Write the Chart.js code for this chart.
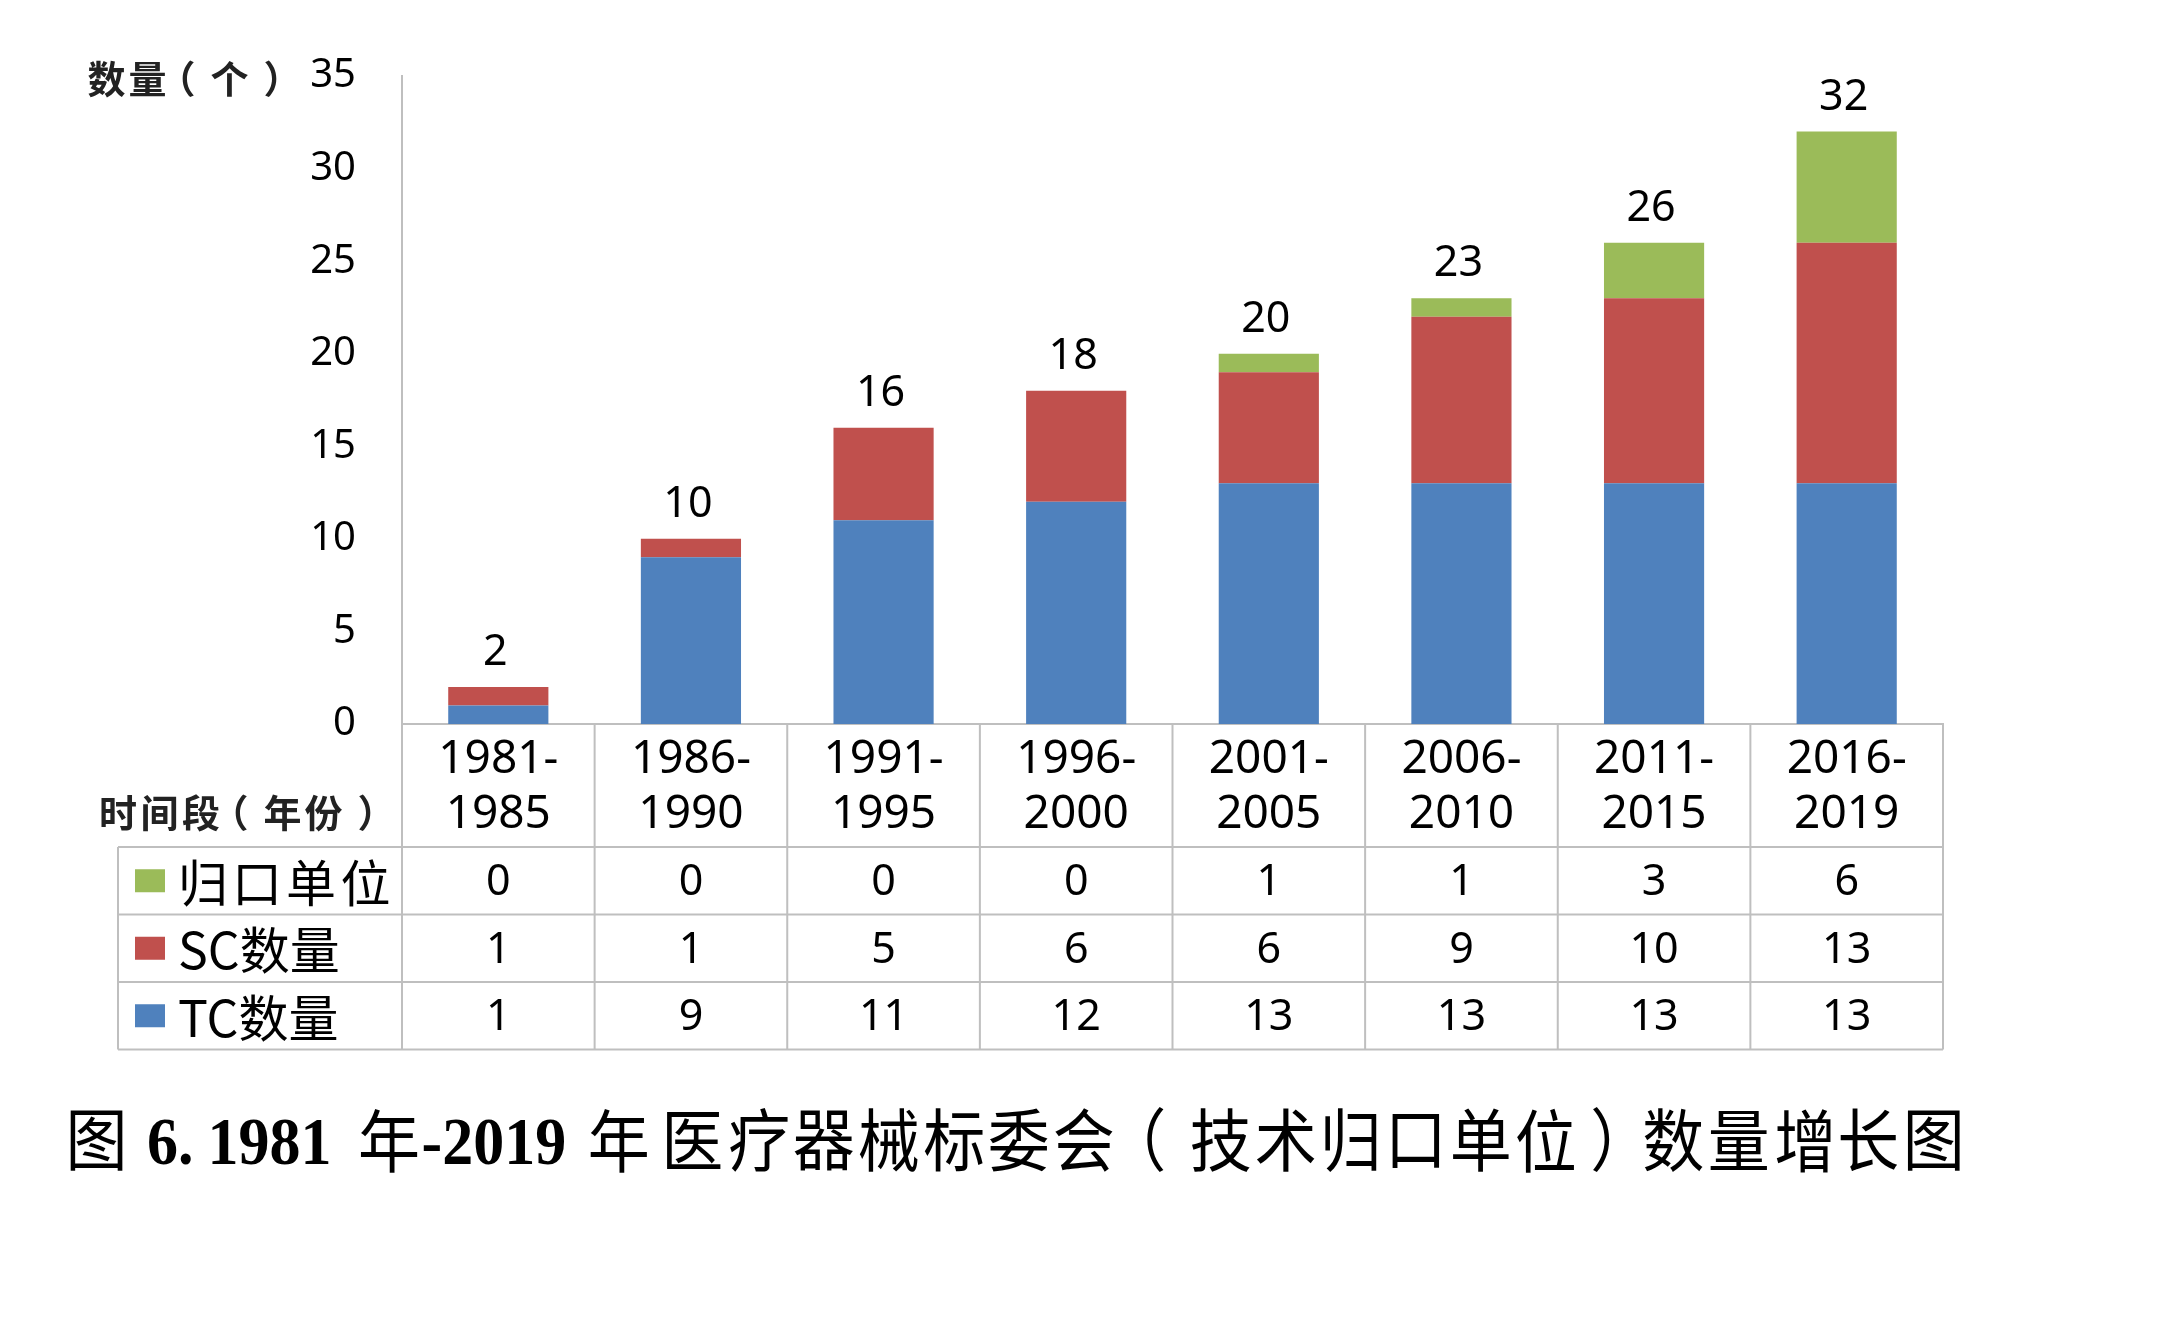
<!DOCTYPE html>
<html>
<head>
<meta charset="utf-8">
<script src="https://cdn.jsdelivr.net/npm/chart.js@4/dist/chart.umd.min.js"></script>
<style>
html,body{margin:0;padding:0;background:#fff;}
#c{display:block;width:2172px;height:1326px;}
</style>
</head>
<body>
<canvas id="c" width="2172" height="1326"></canvas>
<script>
// ---- data ----
const categories = ['1981-1985','1986-1990','1991-1995','1996-2000','2001-2005','2006-2010','2011-2015','2016-2019'];
const tcCounts   = [1, 9, 11, 12, 13, 13, 13, 13];
const scCounts   = [1, 1, 5, 6, 6, 9, 10, 13];
const unitCounts = [0, 0, 0, 0, 1, 1, 3, 6];
const seriesNames = ['TC数量', 'SC数量', '归口单位'];
const yTickMin = 0, yTickMax = 35, yTickStep = 5;
const yAxisTitle = '数量（个）';
const xAxisTitle = '时间段（年份）';
// caption pieces: [text, kind, gap before]
const captionParts = [
  ['图', 'cjk', 0], ['6.', 'lat', 18], ['1981', 'lat', 14], ['年', 'cjk', 25],
  ['-2019', 'lat', 0], ['年', 'cjk', 20], ['医疗器械标委会', 'cjk', 10], ['（', 'cjk', 7],
  ['技术归口单位', 'cjk', 0], ['）', 'cjk', -10], ['数量增长图', 'cjk', 8]
];

const colors = { tc: '#4F81BD', sc: '#C0504D', unit: '#9BBB59' };
const gridColor = '#BFBFBF';
const numFont = '"Noto Sans", "Open Sans", sans-serif';
const cjkFont = '"Noto Sans CJK SC", sans-serif';

const HEADER_H = 123;
const ROW_H = 67.5;
const LEGEND_W = 284;

// draw a glyph with its ink centred in a box [boxX, boxX+adv]
function boxChar(ctx, ch, boxX, adv, y) {
  const m = ctx.measureText(ch);
  ctx.fillText(ch, boxX + adv / 2 - (m.actualBoundingBoxRight - m.actualBoundingBoxLeft) / 2, y);
}
function boxText(ctx, text, x, adv, y) {
  let cx = x;
  for (const ch of text) { boxChar(ctx, ch, cx, adv, y); cx += adv; }
  return cx;
}

const tablePlugin = {
  id: 'tablePlugin',
  afterDraw(chart) {
    const ctx = chart.ctx;
    const xs = chart.scales.x, ys = chart.scales.y;
    const ca = chart.chartArea;
    const n = categories.length;
    const half = (xs.getPixelForValue(1) - xs.getPixelForValue(0)) / 2;
    const bounds = [];
    for (let i = 0; i < n; i++) bounds.push(xs.getPixelForValue(i) - half);
    bounds.push(xs.getPixelForValue(n - 1) + half);
    const headBottom = ca.bottom + HEADER_H;
    const tableBottom = headBottom + ROW_H * 3;
    const tableLeft = ca.left - LEGEND_W;

    ctx.save();
    ctx.strokeStyle = gridColor;
    ctx.lineWidth = 2;
    ctx.beginPath();
    bounds.forEach(b => { ctx.moveTo(b, ca.bottom); ctx.lineTo(b, tableBottom); });
    ctx.moveTo(tableLeft, headBottom); ctx.lineTo(tableLeft, tableBottom);
    for (let r = 0; r <= 3; r++) {
      const yy = headBottom + r * ROW_H;
      ctx.moveTo(tableLeft, yy); ctx.lineTo(bounds[n], yy);
    }
    ctx.stroke();

    const rows = [
      { name: seriesNames[2], color: colors.unit, vals: unitCounts, adv: 54 },
      { name: seriesNames[1], color: colors.sc, vals: scCounts, adv: 0 },
      { name: seriesNames[0], color: colors.tc, vals: tcCounts, adv: 0 }
    ];
    rows.forEach((row, r) => {
      const cy = headBottom + r * ROW_H + ROW_H / 2;
      ctx.fillStyle = row.color;
      ctx.fillRect(tableLeft + 17, cy - 11.5, 30, 23);
      ctx.fillStyle = '#000';
      ctx.textBaseline = 'middle';
      ctx.textAlign = 'left';
      ctx.font = '50px ' + cjkFont;
      if (row.adv) boxText(ctx, row.name, tableLeft + 58, row.adv, cy + 2);
      else ctx.fillText(row.name, tableLeft + 60, cy + 2);
      ctx.textAlign = 'center';
      ctx.font = '43px ' + numFont;
      row.vals.forEach((v, i) => ctx.fillText(String(v), xs.getPixelForValue(i), cy + 2));
    });

    // stack totals
    ctx.fillStyle = '#000';
    ctx.font = '43px ' + numFont;
    ctx.textAlign = 'center';
    ctx.textBaseline = 'middle';
    for (let i = 0; i < n; i++) {
      const total = tcCounts[i] + scCounts[i] + unitCounts[i];
      ctx.fillText(String(total), xs.getPixelForValue(i) - 3, ys.getPixelForValue(total) - 34);
    }

    // axis titles
    ctx.fillStyle = '#222';
    ctx.textAlign = 'left';
    ctx.textBaseline = 'middle';
    ctx.font = 'bold 38px ' + cjkFont;
    boxText(ctx, yAxisTitle, ca.left - 316, 41, ys.getPixelForValue(yTickMax) + 3);
    ctx.font = 'bold 38px ' + cjkFont;
    boxText(ctx, xAxisTitle, ca.left - 304, 41, ca.bottom + 89);

    // caption (slightly tall type, as in the source figure)
    ctx.fillStyle = '#000';
    ctx.textBaseline = 'alphabetic';
    const base = 1164;
    ctx.translate(0, base);
    ctx.scale(1, 1.1);
    let x = 64;
    const cjkAdv = 65;
    const cjkMid = (1140 - base) / 1.1;
    captionParts.forEach(([t, kind, gap]) => {
      x += gap;
      if (kind === 'lat') {
        ctx.font = 'bold 62px "Liberation Serif", serif';
        ctx.fillText(t, x, 0);
        x += ctx.measureText(t).width;
      } else {
        ctx.font = '62px ' + cjkFont;
        for (const ch of t) {
          const m = ctx.measureText(ch);
          const yy = cjkMid - (m.actualBoundingBoxDescent - m.actualBoundingBoxAscent) / 2;
          boxChar(ctx, ch, x, cjkAdv, yy);
          x += cjkAdv;
        }
      }
    });
    ctx.restore();
  }
};

new Chart(document.getElementById('c'), {
  type: 'bar',
  data: {
    labels: categories,
    datasets: [
      { label: seriesNames[0], data: tcCounts, backgroundColor: colors.tc },
      { label: seriesNames[1], data: scCounts, backgroundColor: colors.sc },
      { label: seriesNames[2], data: unitCounts, backgroundColor: colors.unit }
    ]
  },
  options: {
    responsive: false,
    animation: false,
    devicePixelRatio: 1,
    categoryPercentage: 1,
    barPercentage: 0.52,
    layout: { padding: { left: 0, right: 229, top: 76, bottom: 278 } },
    plugins: { legend: { display: false }, tooltip: { enabled: false } },
    scales: {
      x: {
        stacked: true,
        grid: { display: false, drawTicks: false },
        border: { display: true, color: gridColor, width: 2 },
        ticks: {
          color: '#000',
          font: { family: numFont, size: 46, lineHeight: 1.18 },
          padding: 9,
          maxRotation: 0,
          autoSkip: false,
          callback: function (v, i) {
            const parts = categories[i].split('-');
            return [parts[0] + '-', parts[1]];
          }
        },
        afterFit: s => { s.height = 324; }
      },
      y: {
        stacked: true,
        min: yTickMin,
        max: yTickMax,
        grid: { display: false, drawTicks: false },
        border: { display: true, color: gridColor, width: 2 },
        ticks: {
          stepSize: yTickStep,
          color: '#000',
          font: { family: numFont, size: 40 },
          padding: 46
        },
        afterFit: s => { s.width = 402; }
      }
    }
  },
  plugins: [tablePlugin]
});
</script>
</body>
</html>
